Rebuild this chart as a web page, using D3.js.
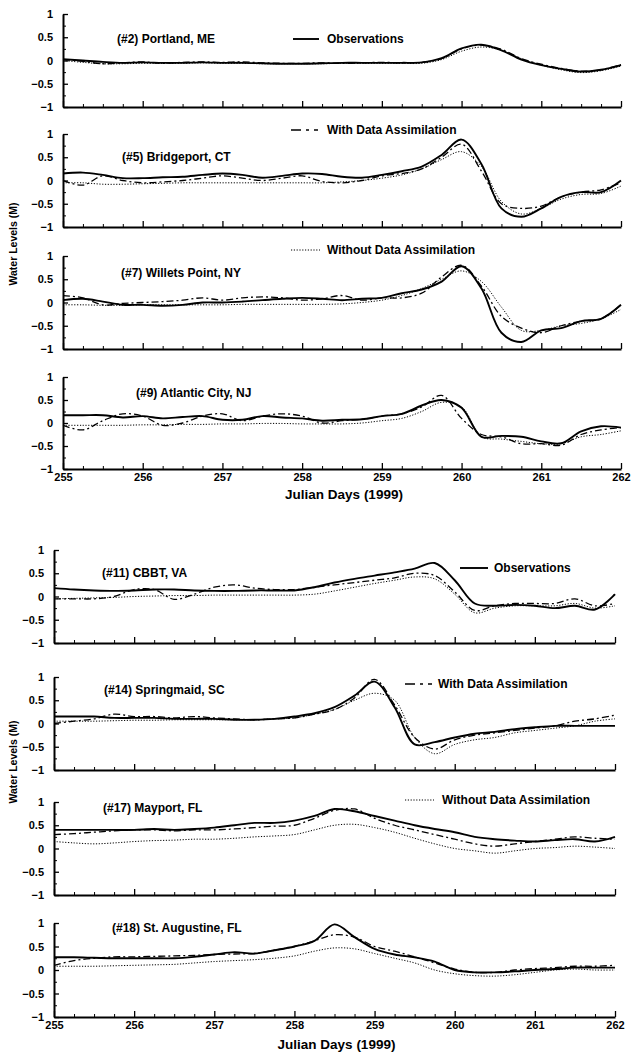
<!DOCTYPE html>
<html><head><meta charset="utf-8">
<script src="https://cdn.jsdelivr.net/npm/d3@7"></script>
<style>body{margin:0;background:#fff}svg{display:block}text{font-family:"Liberation Sans",Arial,sans-serif;font-weight:bold;fill:#000}</style>
</head><body><svg id="c" width="641" height="1055"></svg>
<script>
// ---- data ----
const days = d3.range(0, 29).map(i => 255 + i * 0.25);
const xTicks = [255, 256, 257, 258, 259, 260, 261, 262];
const yTicks = [-1, -0.5, 0, 0.5, 1];
const stations = ["(#2) Portland, ME", "(#5) Bridgeport, CT", "(#7) Willets Point, NY", "(#9) Atlantic City, NJ",
                  "(#11) CBBT, VA", "(#14) Springmaid, SC", "(#17) Mayport, FL", "(#18) St. Augustine, FL"];
const seriesNames = ["Observations", "With Data Assimilation", "Without Data Assimilation"];
const xTitle = "Julian Days (1999)";
const yTitle = "Water Levels (M)";

const portlandObs  = [0.03,0.0,-0.03,-0.05,-0.04,-0.05,-0.05,-0.04,-0.05,-0.05,-0.06,-0.07,-0.07,-0.06,-0.05,-0.05,-0.05,-0.05,-0.04,0.05,0.26,0.34,0.22,0.02,-0.1,-0.18,-0.24,-0.2,-0.1];
const portlandDA   = [0.02,-0.02,-0.07,-0.05,-0.03,-0.06,-0.04,-0.03,-0.04,-0.03,-0.05,-0.06,-0.06,-0.05,-0.06,-0.05,-0.04,-0.05,-0.04,0.04,0.25,0.33,0.24,0.04,-0.08,-0.17,-0.23,-0.2,-0.09];
const portlandNo   = [0.0,-0.04,-0.07,-0.07,-0.06,-0.06,-0.06,-0.05,-0.06,-0.06,-0.07,-0.07,-0.07,-0.07,-0.06,-0.06,-0.06,-0.06,-0.06,0.02,0.2,0.29,0.22,0.04,-0.1,-0.2,-0.26,-0.22,-0.12];

const bridgeObs = [0.15,0.17,0.12,0.05,0.05,0.07,0.08,0.12,0.15,0.12,0.06,0.1,0.15,0.14,0.08,0.06,0.12,0.2,0.3,0.55,0.88,0.35,-0.6,-0.78,-0.6,-0.35,-0.25,-0.25,0.0];
const bridgeDA  = [0.0,-0.1,0.1,0.0,-0.05,-0.03,0.0,0.05,0.1,0.05,0.0,0.05,0.1,-0.02,-0.05,0.0,0.1,0.15,0.25,0.5,0.78,0.2,-0.5,-0.6,-0.55,-0.35,-0.25,-0.2,-0.05];
const bridgeNo  = [-0.05,-0.05,-0.08,-0.08,-0.07,-0.06,-0.05,-0.05,-0.05,-0.05,-0.05,-0.05,-0.05,-0.05,-0.03,0.0,0.05,0.12,0.25,0.45,0.62,0.3,-0.45,-0.72,-0.6,-0.4,-0.3,-0.28,-0.12];

const willetsObs = [0.05,0.08,0.02,-0.05,-0.05,-0.07,-0.05,0.0,0.0,0.02,0.05,0.08,0.1,0.08,0.05,0.08,0.1,0.2,0.28,0.45,0.78,0.3,-0.65,-0.85,-0.6,-0.55,-0.4,-0.35,-0.05];
const willetsDA  = [0.15,0.1,-0.05,-0.02,0.0,0.02,0.05,0.1,0.05,0.1,0.12,0.1,0.05,0.08,0.15,0.05,0.1,0.1,0.2,0.55,0.8,0.35,-0.3,-0.55,-0.65,-0.5,-0.4,-0.35,-0.05];
const willetsNo  = [-0.05,-0.05,-0.06,-0.06,-0.05,-0.05,-0.05,-0.05,-0.05,-0.04,-0.04,-0.04,-0.04,-0.04,-0.03,0.0,0.05,0.15,0.3,0.5,0.68,0.45,-0.1,-0.6,-0.6,-0.5,-0.45,-0.35,-0.15];

const atlanticObs = [0.17,0.17,0.17,0.12,0.15,0.1,0.13,0.15,0.07,0.07,0.15,0.12,0.1,0.05,0.07,0.08,0.15,0.2,0.38,0.5,0.33,-0.3,-0.28,-0.3,-0.4,-0.44,-0.18,-0.07,-0.1];
const atlanticDA  = [-0.05,-0.15,0.05,0.2,0.15,-0.05,0.0,0.15,0.2,0.05,0.15,0.2,0.15,0.0,0.05,0.08,0.15,0.2,0.35,0.6,0.1,-0.25,-0.3,-0.45,-0.45,-0.48,-0.25,-0.15,-0.1];
const atlanticNo  = [-0.05,-0.05,-0.05,-0.05,-0.04,-0.04,-0.03,-0.03,-0.02,-0.02,-0.01,-0.01,-0.02,-0.02,-0.02,0.0,0.05,0.1,0.25,0.45,0.35,-0.3,-0.35,-0.4,-0.45,-0.45,-0.3,-0.25,-0.17];

const cbbtObs = [0.18,0.15,0.13,0.12,0.13,0.15,0.15,0.13,0.12,0.12,0.13,0.13,0.13,0.2,0.3,0.38,0.45,0.52,0.6,0.72,0.35,-0.15,-0.2,-0.18,-0.2,-0.25,-0.2,-0.28,0.05];
const cbbtDA  = [-0.05,-0.05,-0.05,0.0,0.15,0.15,-0.06,0.05,0.2,0.25,0.18,0.15,0.15,0.2,0.25,0.3,0.35,0.4,0.5,0.45,0.1,-0.3,-0.2,-0.15,-0.15,-0.15,-0.05,-0.2,-0.15];
const cbbtNo  = [-0.05,-0.04,-0.03,-0.02,0.0,0.01,0.02,0.02,0.03,0.03,0.03,0.03,0.03,0.05,0.12,0.2,0.28,0.35,0.42,0.38,0.05,-0.35,-0.25,-0.2,-0.2,-0.2,-0.15,-0.25,-0.2];

const springObs = [0.15,0.15,0.15,0.12,0.12,0.12,0.1,0.1,0.1,0.08,0.08,0.1,0.15,0.22,0.35,0.6,0.9,0.35,-0.45,-0.4,-0.3,-0.22,-0.18,-0.12,-0.08,-0.05,-0.05,-0.05,-0.05];
const springDA  = [0.0,0.05,0.1,0.2,0.15,0.15,0.12,0.15,0.12,0.1,0.08,0.1,0.12,0.2,0.3,0.55,0.95,0.4,-0.3,-0.55,-0.35,-0.25,-0.2,-0.15,-0.1,-0.05,0.05,0.1,0.18];
const springNo  = [0.05,0.05,0.05,0.06,0.07,0.07,0.08,0.08,0.08,0.08,0.08,0.1,0.12,0.2,0.3,0.5,0.65,0.5,-0.3,-0.65,-0.45,-0.35,-0.3,-0.2,-0.15,-0.1,-0.05,0.05,0.1];

const mayportObs = [0.4,0.4,0.4,0.4,0.4,0.42,0.4,0.42,0.45,0.5,0.55,0.55,0.6,0.7,0.85,0.8,0.7,0.6,0.5,0.42,0.35,0.25,0.2,0.17,0.15,0.18,0.2,0.15,0.25];
const mayportDA  = [0.3,0.32,0.35,0.38,0.4,0.4,0.38,0.4,0.4,0.42,0.45,0.48,0.5,0.65,0.82,0.85,0.65,0.5,0.4,0.3,0.2,0.1,0.05,0.1,0.15,0.2,0.25,0.22,0.2];
const mayportNo  = [0.15,0.12,0.1,0.12,0.15,0.17,0.18,0.2,0.2,0.22,0.25,0.27,0.3,0.4,0.5,0.52,0.45,0.35,0.22,0.1,0.0,-0.05,-0.1,-0.05,0.0,0.02,0.05,0.03,0.0];

const augustineObs = [0.27,0.27,0.26,0.25,0.25,0.25,0.25,0.28,0.33,0.38,0.35,0.42,0.5,0.62,0.97,0.7,0.45,0.33,0.27,0.18,0.0,-0.05,-0.05,-0.03,0.0,0.02,0.05,0.05,0.05];
const augustineDA  = [0.1,0.2,0.25,0.28,0.28,0.29,0.3,0.31,0.33,0.34,0.35,0.42,0.5,0.62,0.75,0.7,0.5,0.4,0.28,0.15,0.02,-0.05,-0.05,0.0,0.03,0.05,0.08,0.08,0.1];
const augustineNo  = [0.08,0.08,0.08,0.09,0.1,0.11,0.12,0.15,0.18,0.2,0.22,0.25,0.3,0.4,0.47,0.45,0.35,0.25,0.15,0.0,-0.08,-0.12,-0.13,-0.1,-0.05,0.0,0.02,0.0,0.0];

const obsAll  = [portlandObs, bridgeObs, willetsObs, atlanticObs, cbbtObs, springObs, mayportObs, augustineObs];
const daAll   = [portlandDA, bridgeDA, willetsDA, atlanticDA, cbbtDA, springDA, mayportDA, augustineDA];
const noAll   = [portlandNo, bridgeNo, willetsNo, atlanticNo, cbbtNo, springNo, mayportNo, augustineNo];

// ---- layout ----
const groups = [{x0: 63, x1: 621}, {x0: 54, x1: 615}];
const panels = [
  {g:0, top:14,  bot:107, lx:117, ly:43},
  {g:0, top:134, bot:227, lx:122, ly:161},
  {g:0, top:256, bot:349, lx:121, ly:277},
  {g:0, top:377, bot:469, lx:136, ly:397, xlab:true},
  {g:1, top:550, bot:643, lx:102, ly:577},
  {g:1, top:677, bot:770, lx:104, ly:694},
  {g:1, top:802, bot:895, lx:103, ly:812},
  {g:1, top:923, bot:1017, lx:112, ly:932, xlab:true}
];
const styles = [
  {w:1.9, dash:null},
  {w:1.3, dash:"7,3,2,3"},
  {w:1.0, dash:"1.2,1.6"}
];

const svg = d3.select("#c");

panels.forEach((p, i) => {
  const g = groups[p.g];
  const x = d3.scaleLinear().domain([255, 262]).range([g.x0, g.x1]);
  const y = d3.scaleLinear().domain([-1, 1]).range([p.bot, p.top]);
  const pg = svg.append("g");

  // minor ticks
  const xMinor = d3.range(0, 29).map(k => 255 + k * 0.25).filter(v => !Number.isInteger(v));
  pg.append("g").attr("transform", `translate(0,${p.bot})`)
    .call(d3.axisBottom(x).tickValues(xMinor).tickSize(-3).tickFormat(""))
    .call(a => a.select(".domain").remove())
    .selectAll("line").attr("stroke", "#000").attr("stroke-width", 1);
  pg.append("g").attr("transform", `translate(${g.x0},0)`)
    .call(d3.axisLeft(y).tickValues([-0.75, -0.25, 0.25, 0.75]).tickSize(-3).tickFormat(""))
    .call(a => a.select(".domain").remove())
    .selectAll("line").attr("stroke", "#000").attr("stroke-width", 1);

  // x axis
  const xa = pg.append("g").attr("transform", `translate(0,${p.bot})`)
    .call(d3.axisBottom(x).tickValues(xTicks).tickSizeInner(-6).tickSizeOuter(0).tickPadding(4)
      .tickFormat(p.xlab ? d3.format("d") : ""));
  xa.select(".domain").attr("stroke", "#000").attr("stroke-width", 2);
  xa.selectAll("line").attr("stroke", "#000").attr("stroke-width", 1.3);
  xa.selectAll("text").attr("font-size", 11).attr("font-family", "'Liberation Sans',Arial,sans-serif").attr("font-weight", "bold");

  // y axis
  const ya = pg.append("g").attr("transform", `translate(${g.x0},0)`)
    .call(d3.axisLeft(y).tickValues(yTicks).tickSizeInner(-5).tickSizeOuter(0).tickPadding(10)
      .tickFormat(d => d3.format("")(d)));
  ya.select(".domain").attr("stroke", "#000").attr("stroke-width", 2);
  ya.selectAll("line").attr("stroke", "#000").attr("stroke-width", 1.3);
  ya.selectAll("text").attr("font-size", 11).attr("font-family", "'Liberation Sans',Arial,sans-serif").attr("font-weight", "bold");

  // lines
  const line = d3.line().x((d, k) => x(days[k])).y(d => y(d)).curve(d3.curveCatmullRom.alpha(0.5));
  [noAll[i], daAll[i], obsAll[i]].forEach((vals, s) => {
    const st = styles[2 - s];
    pg.append("path").datum(vals).attr("d", line)
      .attr("fill", "none").attr("stroke", "#000").attr("stroke-width", st.w)
      .attr("stroke-dasharray", st.dash).attr("stroke-linejoin", "round");
  });

  // panel label
  pg.append("text").attr("x", p.lx).attr("y", p.ly).attr("font-size", 12).text(stations[i]);
});

// x titles
[{y: 499, g: 0}, {y: 1049, g: 1}].forEach(t => {
  const g = groups[t.g];
  svg.append("text").attr("x", (g.x0 + g.x1) / 2 + 2).attr("y", t.y).attr("text-anchor", "middle")
    .attr("font-size", 13.5).text(xTitle);
});
// y titles
[{cy: 244}, {cy: 762}].forEach(t => {
  svg.append("text").attr("transform", `translate(17,${t.cy}) rotate(-90)`).attr("text-anchor", "middle")
    .attr("font-size", 10.5).text(yTitle);
});

// legends
const legends = [
  {s:0, x1:293, x2:319, y:39, tx:327},
  {s:1, x1:291, x2:318, y:130, tx:327},
  {s:2, x1:291, x2:320, y:250, tx:327},
  {s:0, x1:460, x2:488, y:568, tx:494},
  {s:1, x1:405, x2:432, y:684, tx:438},
  {s:2, x1:405, x2:434, y:800, tx:442}
];
legends.forEach(l => {
  const st = styles[l.s];
  svg.append("line").attr("x1", l.x1).attr("x2", l.x2).attr("y1", l.y).attr("y2", l.y)
    .attr("stroke", "#000").attr("stroke-width", st.w).attr("stroke-dasharray", l.s === 1 ? "10,5,3,5" : st.dash);
  svg.append("text").attr("x", l.tx).attr("y", l.y + 4).attr("font-size", 12).text(seriesNames[l.s]);
});
</script></body></html>
